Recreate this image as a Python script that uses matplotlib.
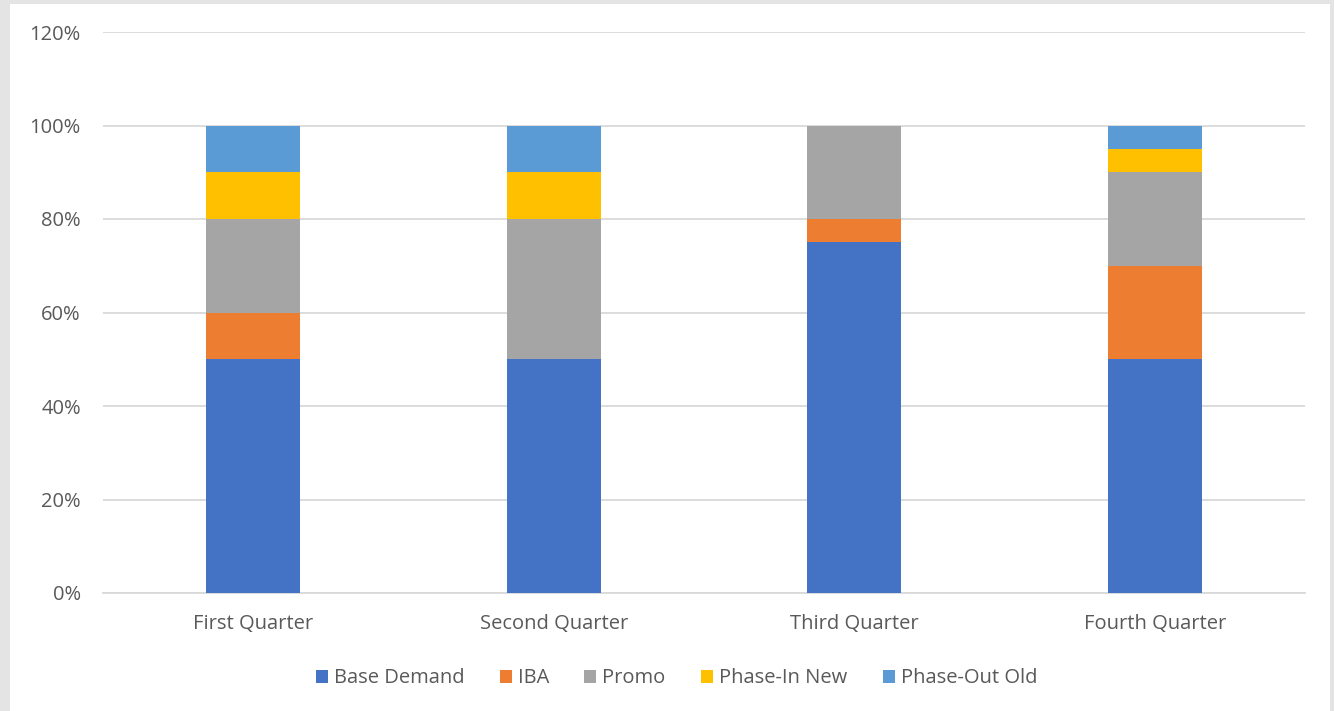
import numpy as np
import matplotlib
matplotlib.use('Agg')
from matplotlib import pyplot as plt
from matplotlib.patches import Rectangle
from matplotlib.ticker import PercentFormatter

plt.rcParams['font.family'] = ['Open Sans', 'DejaVu Sans']

# 数据
quarters = ['First Quarter', 'Second Quarter', 'Third Quarter', 'Fourth Quarter']
series_names = ['Base Demand', 'IBA', 'Promo', 'Phase-In New', 'Phase-Out Old']
base_demand = [50, 50, 75, 50]
iba = [10, 0, 5, 20]
promo = [20, 30, 20, 20]
phase_in = [10, 10, 0, 5]
phase_out = [10, 10, 0, 5]
colors = ['#4472C4', '#ED7D31', '#A5A5A5', '#FFC000', '#5B9BD5']

fig = plt.figure(figsize=(13.34, 7.11), dpi=100)
fig.patch.set_facecolor('#E4E4E4')
# 白色图表区（放在坐标轴下面）
fig.patches.append(Rectangle((10 / 1334, 0), (1330 - 10) / 1334, (711 - 4) / 711,
                             transform=fig.transFigure, facecolor='white',
                             edgecolor='none', zorder=-5))

ax = fig.add_axes([103 / 1334, 1 - 593 / 711, (1305 - 103) / 1334, (593 - 32) / 711])
ax.set_facecolor('white')

x = np.arange(len(quarters))
bottom = np.zeros(len(quarters))
for name, vals, c in zip(series_names, [base_demand, iba, promo, phase_in, phase_out], colors):
    vals = np.array(vals, dtype=float)
    ax.bar(x, vals, 0.313, bottom=bottom, color=c, label=name, zorder=3)
    bottom += vals

ax.set_xlim(-0.5, 3.5)
ax.set_ylim(0, 120)
ax.set_yticks(np.arange(0, 121, 20))
ax.yaxis.set_major_formatter(PercentFormatter(decimals=0))
ax.set_xticks(x)
ax.set_xticklabels(quarters)
ax.grid(axis='y', color='#D9D9D9', linewidth=1.3, zorder=0)
for s in ['top', 'right', 'left']:
    ax.spines[s].set_visible(False)
ax.spines['bottom'].set_color('#D9D9D9')
ax.spines['bottom'].set_linewidth(1.3)
ax.tick_params(axis='both', length=0, labelsize=14.5, colors='#595959')
ax.tick_params(axis='y', pad=16)
ax.tick_params(axis='x', pad=15)

ax.legend(loc='center', bbox_to_anchor=(0.477, -0.152), ncol=5, frameon=False,
          fontsize=14.5, labelcolor='#595959', handlelength=0.6, handleheight=0.6,
          handletextpad=0.3, columnspacing=1.75)

plt.savefig('out.png', dpi=100, facecolor=fig.get_facecolor())
